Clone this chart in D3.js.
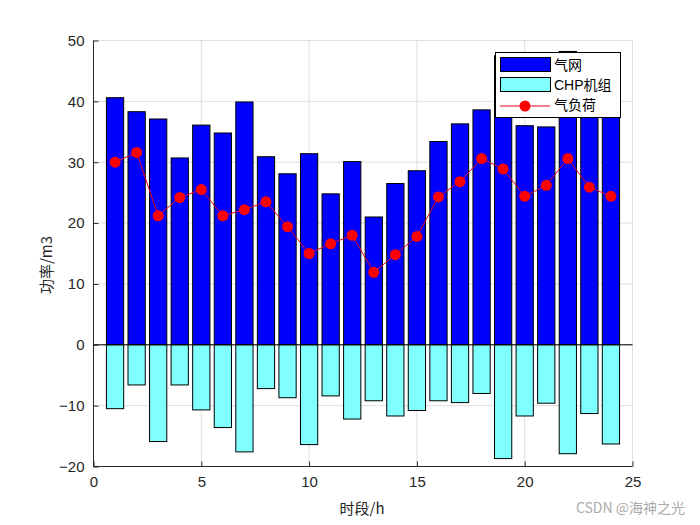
<!DOCTYPE html>
<html><head><meta charset="utf-8">
<script src="https://cdn.jsdelivr.net/npm/d3@7"></script>
<style>body{margin:0;background:#fff}</style>
</head><body>
<svg id="c" width="700" height="525"></svg>
<script>
const hours = d3.range(1, 25);
const gasGrid = [40.6,38.3,37.1,30.7,36.1,34.8,39.9,30.9,28.1,31.4,24.8,30.1,21.0,26.5,28.6,33.4,36.3,38.6,47.5,36.0,35.8,48.2,42.0,39.0];
const chp = [-10.5,-6.6,-15.9,-6.6,-10.7,-13.6,-17.6,-7.2,-8.7,-16.4,-8.4,-12.2,-9.2,-11.7,-10.8,-9.2,-9.5,-8.0,-18.7,-11.7,-9.6,-17.9,-11.3,-16.3];
const gasLoad = [30.0,31.6,21.2,24.2,25.5,21.2,22.2,23.5,19.4,15.0,16.6,18.0,11.9,14.8,17.8,24.3,26.8,30.6,28.9,24.4,26.2,30.6,25.9,24.4];
const xTicks = [0,5,10,15,20,25];
const yTicks = [-20,-10,0,10,20,30,40,50];
const legendLabels = ["气网","CHP机组","气负荷"];

const svg = d3.select("#c");
const L=93.5,R=632.5,T=40.5,B=466.5;
const x = d3.scaleLinear().domain([0,25]).range([L,R]);
const y = d3.scaleLinear().domain([-20,50]).range([B,T]);
const font = "'Liberation Sans', Arial, sans-serif";
const bw = (x(1)-x(0))*0.8;

// grid
const g = svg.append("g");
g.selectAll(".gx").data(xTicks).join("line").attr("x1",d=>x(d)).attr("x2",d=>x(d)).attr("y1",T).attr("y2",B).attr("stroke","#dfdfdf");
g.selectAll(".gy").data(yTicks).join("line").attr("x1",L).attr("x2",R).attr("y1",d=>y(d)).attr("y2",d=>y(d)).attr("stroke","#dfdfdf");

// bars
svg.append("g").selectAll("rect").data(hours).join("rect")
 .attr("x",(d,i)=>x(d)-bw/2).attr("width",bw)
 .attr("y",(d,i)=>y(gasGrid[i])).attr("height",(d,i)=>y(0)-y(gasGrid[i]))
 .attr("fill","#0000ff").attr("stroke","#000").attr("stroke-width",1);
svg.append("g").selectAll("rect").data(hours).join("rect")
 .attr("x",(d,i)=>x(d)-bw/2).attr("width",bw)
 .attr("y",y(0)).attr("height",(d,i)=>y(chp[i])-y(0))
 .attr("fill","#80ffff").attr("stroke","#000").attr("stroke-width",1);
// baseline
svg.append("line").attr("x1",L).attr("x2",R).attr("y1",y(0)).attr("y2",y(0)).attr("stroke","#000");

// line
const line = d3.line().x((d,i)=>x(hours[i])).y(d=>y(d));
svg.append("path").datum(gasLoad).attr("d",line).attr("fill","none").attr("stroke","#e8001a").attr("stroke-width",1);
svg.append("g").selectAll("circle").data(gasLoad).join("circle")
 .attr("cx",(d,i)=>x(hours[i])).attr("cy",d=>y(d)).attr("r",5.5).attr("fill","#ff0000");

// axes
const ax = svg.append("g").attr("transform",`translate(0,${B})`).call(d3.axisBottom(x).tickValues(xTicks).tickSize(-5).tickPadding(10));
const ay = svg.append("g").attr("transform",`translate(${L},0)`).call(d3.axisLeft(y).tickValues(yTicks).tickSize(-5).tickPadding(9));
[ax,ay].forEach(a=>{a.selectAll("text").attr("font-family",font).attr("font-size",15).attr("fill","#262626");a.selectAll("line,path").attr("stroke","#262626");});
ax.select(".domain").attr("d",`M${L},0H${R}`);
ay.select(".domain").attr("d",`M0,${B}V${T}`);

// labels
svg.append("text").attr("x",362).attr("y",514).attr("text-anchor","middle").attr("font-family","'Noto Sans CJK SC', "+font).attr("font-size",15).attr("fill","#262626").text("时段/h");
svg.append("text").attr("transform","translate(52,265) rotate(-90)").attr("text-anchor","middle").attr("font-family","'Noto Sans CJK SC', "+font).attr("font-size",15).attr("fill","#262626").text("功率/m3");

// legend
const lg = svg.append("g");
lg.append("rect").attr("x",495.5).attr("y",52.5).attr("width",125).attr("height",65).attr("fill","#fff").attr("stroke","#000");
lg.append("rect").attr("x",500.5).attr("y",57.5).attr("width",50).attr("height",14).attr("fill","#0000ff").attr("stroke","#000");
lg.append("rect").attr("x",500.5).attr("y",77.5).attr("width",50).attr("height",14).attr("fill","#80ffff").attr("stroke","#000");
lg.append("line").attr("x1",500).attr("x2",550).attr("y1",106).attr("y2",106).attr("stroke","#e8001a");
lg.append("circle").attr("cx",525).attr("cy",106).attr("r",5.5).attr("fill","#ff0000");
lg.selectAll("text").data(legendLabels).join("text").attr("x",554).attr("y",(d,i)=>70+i*20)
 .attr("font-family",font+", 'Noto Sans CJK SC'").attr("font-size",14).attr("fill","#000").text(d=>d);

// watermark
svg.append("text").attr("x",685).attr("y",513).attr("text-anchor","end").attr("font-family","'Noto Sans CJK SC', "+font).attr("font-size",14).attr("fill","#aaa").text("CSDN @海神之光");
</script>
</body></html>
